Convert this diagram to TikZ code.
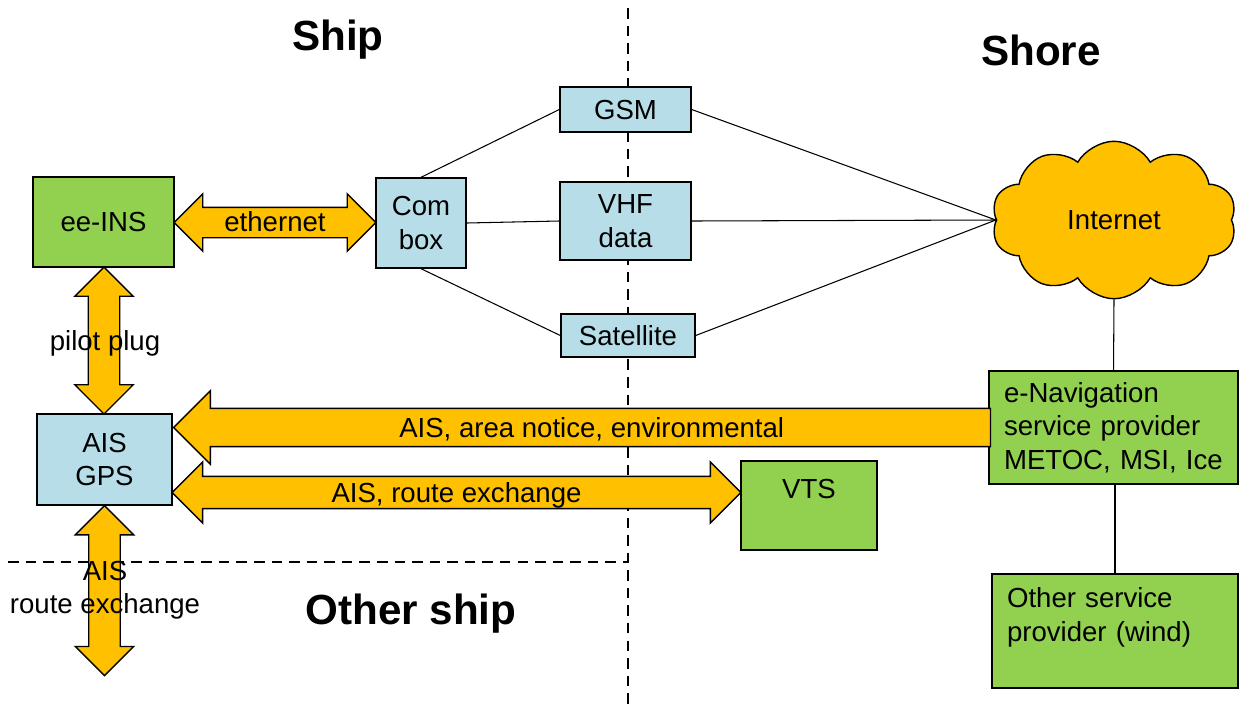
\documentclass[tikz,border=0pt]{standalone}
\usepackage{fontspec}
\setmainfont{Liberation Sans}
\usepackage{xcolor}
\usetikzlibrary{shapes,arrows,positioning,calc,shapes.arrows,shapes.symbols}
\definecolor{linkblue}{RGB}{183, 222, 232}
\definecolor{servicegreen}{RGB}{146, 208, 80}
\definecolor{pipeyellow}{RGB}{255, 192, 0}

\begin{document}
\begin{tikzpicture}[
    x=0.02cm, y=-0.02cm,
    every node/.style={font=\fontsize{15.7}{19}\selectfont},
    bluebox/.style={rectangle, draw, fill=linkblue, line width=0.8pt, align=center, inner sep=1pt},
    greenbox/.style={rectangle, draw, fill=servicegreen, line width=0.8pt, inner sep=1pt},
    title/.style={font=\fontsize{24}{28}\selectfont\bfseries},
    link/.style={line width=0.6pt},
    border/.style={line width=0.6pt, dash pattern=on 6pt off 4pt},
    pipe/.style={double arrow, draw, fill=pipeyellow, line width=0.8pt, inner sep=1pt,
        double arrow head extend=0.27cm, minimum width=1.14cm, text height=12.5pt, text depth=2pt},
    uppipe/.style={pipe, shape border rotate=90, text width=0.53cm},
    onepipe/.style={single arrow, draw, fill=pipeyellow, line width=0.8pt, inner sep=1pt,
        single arrow head extend=0.35cm, minimum width=1.42cm, shape border rotate=180,
        text height=15pt, text depth=4pt}
]
    \useasboundingbox (0,0) rectangle (1239,707);

    % ship / shore / other ship borders
    \draw[border] (628,8) -- (628,707);
    \draw[border] (8,562) -- (628,562);

    \node[title] (ship) at (338,40) {Ship};
    \node[title] (shore) at (1041,50) {Shore};
    \node[title] (othership) at (411,614) {Other ship};

    % ship side
    \node[greenbox, minimum width=2.82cm, minimum height=1.8cm] (ins) at (103.5,222) {ee-INS};
    \node[bluebox, minimum width=1.8cm, minimum height=1.8cm] (com) at (421,223) {Com\\box};
    \node[bluebox, minimum width=2.7cm, minimum height=1.82cm] (ais) at (104.5,459.5) {AIS\\GPS};

    % links
    \node[bluebox, minimum width=2.62cm, minimum height=0.9cm] (gsm) at (625.5,109.5) {GSM};
    \node[bluebox, minimum width=2.62cm, minimum height=1.56cm] (vhf) at (625.5,221) {VHF\\data};
    \node[bluebox, minimum width=2.68cm, minimum height=0.86cm] (sat) at (628,335.5) {Satellite};

    % shore side
    \node[cloud, draw, fill=pipeyellow, line width=0.8pt, cloud puffs=10, cloud puff arc=120,
        minimum width=4.9cm, minimum height=3.15cm, inner sep=0pt] (inet) at (1114,220) {Internet};
    \node[greenbox, minimum width=4.98cm, minimum height=2.26cm, text width=4.38cm, align=left]
        (enav) at (1113.5,427.5) {e-Navigation\\service provider\\METOC, MSI, Ice};
    \node[greenbox, minimum width=4.92cm, minimum height=2.28cm, text width=4.32cm, align=left]
        (other) at (1115,631) {Other service\\provider (wind)\\~};
    \node[greenbox, minimum width=2.72cm, minimum height=1.78cm, align=center]
        (vts) at (809,505.5) {VTS\\~};

    \draw[link] (com.north) -- (gsm.west);
    \draw[link] (com.east) -- (vhf.west);
    \draw[link] (com.south) -- (sat.west);
    \draw[link] (gsm.east) -- (inet.west);
    \draw[link] (vhf.east) -- (inet.west);
    \draw[link] (sat.east) -- (inet.west);
    \draw[link] (inet.south) -- (enav.north);
    \draw[link] (enav.south -| other.north) -- (other.north);

    % data flows
    \node[pipe, minimum height=4.04cm] (eth) at ($(ins.east)!0.5!(com.west)$) {ethernet};
    \node[uppipe, minimum height=2.94cm] (pilot) at ($(ins.south)!0.5!(ais.north)$) {};
    \node[uppipe, minimum height=3.4cm] (aisrx) at ($(ais.south)+(0,85)$) {};
    \node[onepipe, minimum height=16.34cm, anchor=tip] (notice) at (ais.east |- enav.west)
        {AIS, area notice, environmental};
    \node[pipe, minimum height=11.38cm, double arrow head extend=0.29cm, minimum width=1.2cm,
        text height=13.5pt] (route) at ($(ais.east)!0.5!(vts.west |- ais.east)+(0,33)$) {AIS, route exchange};

    \node (pilotlbl) at (105,343) {pilot plug};
    \node[align=center] (aisrxlbl) at (105,590) {AIS\\route exchange};
\end{tikzpicture}
\end{document}
